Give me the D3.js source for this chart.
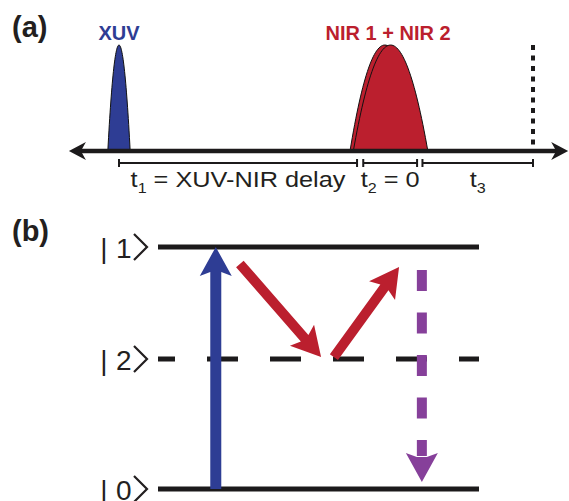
<!DOCTYPE html>
<html><head><meta charset="utf-8">
<script src="https://cdn.jsdelivr.net/npm/d3@7"></script>
<style>html,body{margin:0;padding:0;background:#fff}svg{display:block}</style>
</head><body><svg id="fig" width="569" height="501"></svg>
<script>
// ---- (a) pulse sequence, times in arbitrary units ----
const pulseNames = ["XUV", "NIR 1", "NIR 2"];
const pulseCenters = [0, 6.42, 6.56];
const pulseHalfWidths = [0.27, 0.84, 0.9];
const pulseAmplitudes = [1, 1, 1];
const pulseLabels = ["XUV", "NIR 1 + NIR 2"];
const pulseLabelTimes = [0, 6.5];
const delayNames = ["1", "2", "3"];
const delayTexts = [" = XUV-NIR delay", " = 0", ""];
const delayStarts = [0, 5.9, 7.33];
const delayEnds = [5.75, 7.2, 10];
const detectionTime = 10;
const timeAxisExtent = [-1.21, 10.85];

// ---- (b) level scheme, energies normalised to |1> ----
const levelNames = ["1", "2", "0"];
const levelEnergies = [1, 0.537, 0];
const levelDashed = [false, true, false];
const transitionKinds = ["XUV", "NIR", "NIR", "emission"];
const transitionX0 = [0.18, 0.255, 0.548, 0.822];
const transitionX1 = [0.18, 0.508, 0.751, 0.822];
const transitionE0 = [0, 0.93, 0.545, 0.905];
const transitionE1 = [1, 0.545, 0.917, 0.029];

const colors = { XUV: "#2e3d94", NIR: "#bb1f2e", emission: "#86409a", ink: "#1c1a1b", text: "#231f20" };
const pulseColor = n => n === "XUV" ? colors.XUV : colors.NIR;

const svg = d3.select("#fig");
const font = "'Liberation Sans', Arial, Helvetica, sans-serif";

// panel letters
svg.selectAll("text.panel").data(["(a)", "(b)"]).join("text")
  .attr("class", "panel").attr("x", 12).attr("y", (d, i) => i ? 241 : 37)
  .attr("font-family", font).attr("font-weight", "bold").attr("font-size", 29)
  .attr("fill", colors.text).text(d => d);

// ================= (a) =================
const xA = d3.scaleLinear().domain([0, 10]).range([119, 533]);
const yA = d3.scaleLinear().domain([0, 1]).range([151, 45]);
const gA = svg.append("g");

// pulse envelopes (parabolic)
const pulseShape = (c, w, a) => {
  const pts = d3.range(0, 61).map(k => {
    const t = c - w + (2 * w * k) / 60;
    const s = (t - c) / w;
    return [xA(t), yA(a * (1 - s * s))];
  });
  return d3.line()(pts) + "Z";
};
gA.selectAll("path.pulse").data(pulseNames).join("path")
  .attr("class", "pulse")
  .attr("d", (d, i) => pulseShape(pulseCenters[i], pulseHalfWidths[i], pulseAmplitudes[i]))
  .attr("fill", d => pulseColor(d))
  .attr("stroke", "#111").attr("stroke-width", 1).attr("stroke-linejoin", "round");

gA.selectAll("text.plabel").data(pulseLabels).join("text")
  .attr("class", "plabel")
  .attr("x", (d, i) => xA(pulseLabelTimes[i])).attr("y", 40)
  .attr("text-anchor", "middle").attr("font-family", font).attr("font-weight", "bold")
  .attr("font-size", 20).attr("fill", d => d === "XUV" ? colors.XUV : colors.NIR)
  .text(d => d);

// detection marker
gA.append("line")
  .attr("x1", xA(detectionTime)).attr("x2", xA(detectionTime))
  .attr("y1", yA(1)).attr("y2", yA(0.06))
  .attr("stroke", colors.ink).attr("stroke-width", 4).attr("stroke-dasharray", "5,5.5");

// double-headed time axis
const axY = yA(0);
gA.append("line")
  .attr("x1", xA(timeAxisExtent[0]) + 8).attr("x2", xA(timeAxisExtent[1]) - 8)
  .attr("y1", axY).attr("y2", axY)
  .attr("stroke", colors.ink).attr("stroke-width", 4.5);
const axisHead = (tip, dir) => {
  const L = 17, H = 9, N = 12;
  return `M${tip},${axY}L${tip - dir * L},${axY - H}L${tip - dir * N},${axY}L${tip - dir * L},${axY + H}Z`;
};
gA.selectAll("path.axhead").data(timeAxisExtent).join("path")
  .attr("class", "axhead")
  .attr("d", (d, i) => axisHead(xA(d), i ? 1 : -1))
  .attr("fill", colors.ink);

// delay brackets
const brY = 163;
const br = gA.selectAll("g.br").data(delayNames).join("g").attr("class", "br");
br.append("path")
  .attr("d", (d, i) => {
    const a = xA(delayStarts[i]), b = xA(delayEnds[i]);
    return `M${a},${brY - 4}V${brY + 4}M${a},${brY}H${b}M${b},${brY - 4}V${brY + 4}`;
  })
  .attr("fill", "none").attr("stroke", colors.ink).attr("stroke-width", 2);
const brT = br.append("text")
  .attr("x", (d, i) => (xA(delayStarts[i]) + xA(delayEnds[i])) / 2).attr("y", 187)
  .attr("text-anchor", "middle").attr("font-family", font).attr("font-size", 22)
  .attr("fill", colors.text)
  .attr("transform", (d, i) => {
    const cx = (xA(delayStarts[i]) + xA(delayEnds[i])) / 2;
    return `translate(${cx},0) scale(1.15,1) translate(${-cx},0)`;
  });
brT.append("tspan").text("t");
brT.append("tspan").attr("dy", 6).attr("font-size", 14).text(d => d);
brT.append("tspan").attr("dy", -6).text((d, i) => delayTexts[i]);

// ================= (b) =================
const xB = d3.scaleLinear().domain([0, 1]).range([158, 479]);
const yB = d3.scaleLinear().domain([0, 1]).range([489, 247]);
const gB = svg.append("g");

gB.selectAll("line.level").data(levelNames).join("line")
  .attr("class", "level")
  .attr("x1", xB(0)).attr("x2", xB(1))
  .attr("y1", (d, i) => yB(levelEnergies[i])).attr("y2", (d, i) => yB(levelEnergies[i]))
  .attr("stroke", colors.ink).attr("stroke-width", 5)
  .attr("stroke-dasharray", (d, i) => levelDashed[i] ? "31,32" : null)
  .attr("stroke-dashoffset", (d, i) => levelDashed[i] ? 14 : null);

// ket labels: bar and index as text, closing angle bracket as a stroke
const ket = gB.selectAll("g.ket").data(levelNames).join("g").attr("class", "ket")
  .attr("transform", (d, i) => `translate(0,${yB(levelEnergies[i])})`);
ket.append("text").attr("x", 104).attr("y", 11).attr("text-anchor", "middle")
  .attr("font-family", font).attr("font-size", 28).attr("fill", colors.text).text("|");
ket.append("text").attr("x", 116).attr("y", 11)
  .attr("font-family", font).attr("font-size", 28).attr("fill", colors.text).text(d => d);
ket.append("path").attr("d", "M134,-13L147,0L134,13")
  .attr("fill", "none").attr("stroke", colors.text).attr("stroke-width", 2.2);

// transition arrows
const arrowPath = (x0, y0, x1, y1, w, L, H, Nj) => {
  const dx = x1 - x0, dy = y1 - y0, len = Math.hypot(dx, dy);
  const ux = dx / len, uy = dy / len, nx = -uy, ny = ux;
  const P = (a, b) => `${(x1 + a * ux + b * nx).toFixed(2)},${(y1 + a * uy + b * ny).toFixed(2)}`;
  const S = b => `${(x0 + b * nx).toFixed(2)},${(y0 + b * ny).toFixed(2)}`;
  return `M${S(w / 2)}L${P(-Nj, w / 2)}L${P(-L, H)}L${P(0, 0)}L${P(-L, -H)}L${P(-Nj, -w / 2)}L${S(-w / 2)}Z`;
};
const headPath = (x1, y1, ux, uy, L, H, Nj, w) => {
  const nx = -uy, ny = ux;
  const P = (a, b) => `${(x1 + a * ux + b * nx).toFixed(2)},${(y1 + a * uy + b * ny).toFixed(2)}`;
  return `M${P(-Nj, w / 2)}L${P(-L, H)}L${P(0, 0)}L${P(-L, -H)}L${P(-Nj, -w / 2)}Z`;
};

transitionKinds.forEach((k, i) => {
  const x0 = xB(transitionX0[i]), y0 = yB(transitionE0[i]);
  const x1 = xB(transitionX1[i]), y1 = yB(transitionE1[i]);
  const w = k === "XUV" ? 11 : 10;
  if (k === "emission") {
    const len = Math.hypot(x1 - x0, y1 - y0), ux = (x1 - x0) / len, uy = (y1 - y0) / len;
    gB.append("line")
      .attr("x1", x0).attr("y1", y0).attr("x2", x1 - 26 * ux).attr("y2", y1 - 26 * uy)
      .attr("stroke", colors.emission).attr("stroke-width", w).attr("stroke-dasharray", "21,21.5");
    gB.append("path").attr("d", headPath(x1, y1, ux, uy, 29, 16, 25, w)).attr("fill", colors.emission);
  } else {
    gB.append("path").attr("d", arrowPath(x0, y0, x1, y1, w, 29, 16, 25)).attr("fill", colors[k]);
  }
});
</script></body></html>
